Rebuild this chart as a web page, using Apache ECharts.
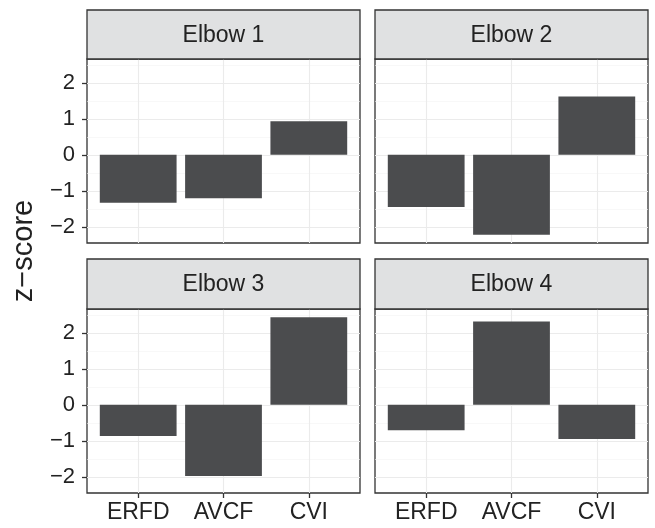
<!DOCTYPE html>
<html>
<head>
<meta charset="utf-8">
<script src="https://cdn.jsdelivr.net/npm/echarts@6/dist/echarts.min.js"></script>
<style>html,body{margin:0;padding:0;background:#fff}#c{width:655px;height:528px}</style>
</head>
<body>
<div id="c"></div>
<script>
// ---- data ----
var categories = ['ERFD', 'AVCF', 'CVI'];
var panels = ['Elbow 1', 'Elbow 2', 'Elbow 3', 'Elbow 4'];
var elbow1 = [-1.33, -1.21, 0.93];
var elbow2 = [-1.45, -2.22, 1.62];
var elbow3 = [-0.87, -1.98, 2.43];
var elbow4 = [-0.71, 2.31, -0.95];
var yMajorTicks = [-2, -1, 0, 1, 2];
var yMinorTicks = [-1.5, -0.5, 0.5, 1.5, 2.5];
var yTitle = 'z\u2212score';

var values = [elbow1, elbow2, elbow3, elbow4];
var chart = echarts.init(document.getElementById('c'), null, {renderer: 'canvas'});

var FONT = 'Liberation Sans, Arial, sans-serif';
var layout = [
  {left: 87, top: 59, stripTop: 10, stripH: 49, showY: true, showX: false},
  {left: 375, top: 59, stripTop: 10, stripH: 49, showY: false, showX: false},
  {left: 87, top: 309, stripTop: 259, stripH: 50, showY: true, showX: true},
  {left: 375, top: 309, stripTop: 259, stripH: 50, showY: false, showX: true}
];
var W = 273, H = 184;
var xMin = 0.4, xMax = categories.length + 0.6;
var yMin = -2.45, yMax = 2.66;
var barW = W / (xMax - xMin) * 0.9;
var catIdx = categories.map(function (c, i) { return i + 1; });

function fmtNum(v) { return v < 0 ? '\u2212' + Math.abs(v) : String(v); }

var grid = [], xAxis = [], yAxis = [], series = [], graphic = [];
layout.forEach(function (p, i) {
  grid.push({left: p.left, top: p.top, width: W, height: H, show: true,
    borderColor: '#333333', borderWidth: 1.3, backgroundColor: '#fff', containLabel: false});
  xAxis.push({
    type: 'value', gridIndex: i, min: xMin, max: xMax, position: 'bottom',
    axisLine: {show: false, onZero: false},
    axisTick: {show: p.showX, customValues: catIdx, length: 5, lineStyle: {color: '#333', width: 1.3}},
    axisLabel: {show: p.showX, customValues: catIdx, margin: 8, fontSize: 23, color: '#222', fontFamily: FONT,
      formatter: function (v) { return categories[Math.round(v) - 1] || ''; }},
    splitLine: {show: true, lineStyle: {color: '#EBEBEB', width: 1.1}}
  });
  // minor y grid
  yAxis.push({
    type: 'value', gridIndex: i, min: yMin, max: yMax, position: 'left',
    axisLine: {show: false, onZero: false}, axisTick: {show: false, customValues: yMinorTicks},
    axisLabel: {show: false, customValues: yMinorTicks},
    splitLine: {show: true, lineStyle: {color: '#F3F3F3', width: 0.6}}
  });
  // major y axis
  yAxis.push({
    type: 'value', gridIndex: i, min: yMin, max: yMax, position: 'left',
    axisLine: {show: false, onZero: false},
    axisTick: {show: p.showY, customValues: yMajorTicks, length: 5, lineStyle: {color: '#333', width: 1.3}},
    axisLabel: {show: p.showY, customValues: yMajorTicks, margin: 12, fontSize: 22, color: '#222', fontFamily: FONT,
      formatter: fmtNum},
    splitLine: {show: true, lineStyle: {color: '#EBEBEB', width: 1.1}}
  });
  series.push({
    type: 'bar', xAxisIndex: i, yAxisIndex: 2 * i + 1, barWidth: barW,
    itemStyle: {color: '#4B4C4E'}, silent: true, animation: false,
    data: values[i].map(function (v, k) { return [catIdx[k], v]; })
  });
  graphic.push({
    type: 'rect', shape: {x: p.left, y: p.stripTop, width: W, height: p.stripH},
    style: {fill: '#E0E1E2', stroke: '#333333', lineWidth: 1.3}, z: 10
  });
  graphic.push({
    type: 'text', x: p.left + W / 2, y: p.stripTop + p.stripH / 2 + 1,
    style: {text: panels[i], fill: '#222', font: '23px ' + FONT, textAlign: 'center', textVerticalAlign: 'middle'}, z: 11
  });
});
graphic.push({
  type: 'text', x: 24, y: 251, rotation: Math.PI / 2,
  style: {text: yTitle, fill: '#222', font: '29px ' + FONT, textAlign: 'center', textVerticalAlign: 'middle'}, z: 11
});

chart.setOption({
  animation: false,
  backgroundColor: '#fff',
  grid: grid, xAxis: xAxis, yAxis: yAxis, series: series, graphic: graphic
});
</script>
</body>
</html>
